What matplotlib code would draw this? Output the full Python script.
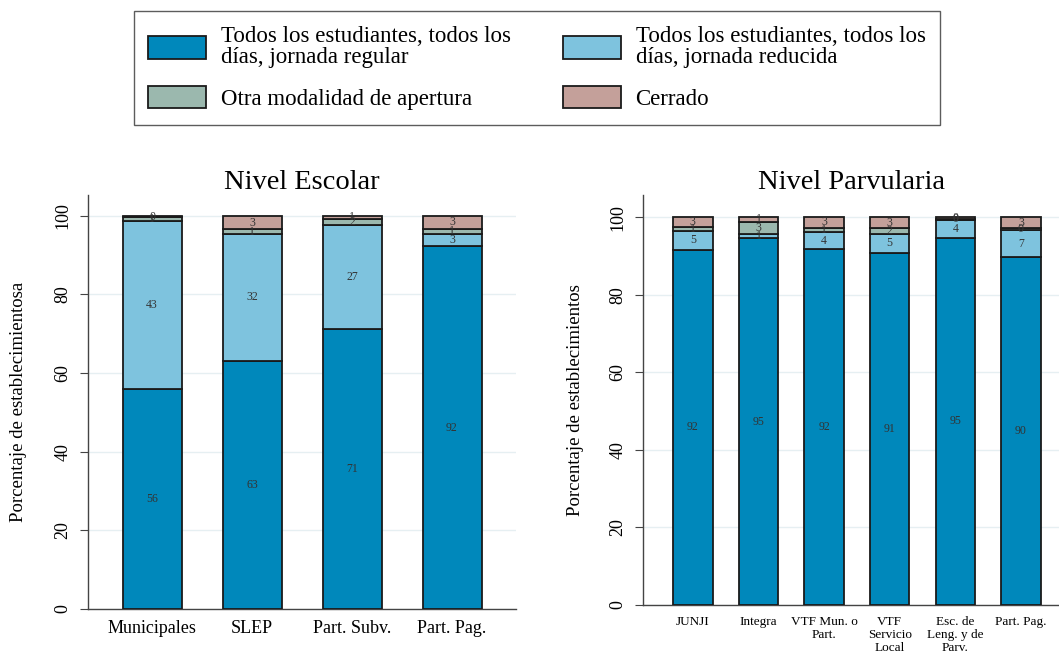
import numpy as np
import matplotlib.pyplot as plt
from matplotlib.patches import Patch

plt.rcParams['font.family'] = ['Liberation Serif', 'DejaVu Serif']

# ---- data ----
series = ["Todos los estudiantes, todos los\ndías, jornada regular",
          "Todos los estudiantes, todos los\ndías, jornada reducida",
          "Otra modalidad de apertura",
          "Cerrado"]
colors = ["#0088bb", "#7ec3de", "#9bb8ae", "#c4a09a"]

esc_cats = ["Municipales", "SLEP", "Part. Subv.", "Part. Pag."]
esc_regular = [55.9, 63.2, 71.1, 92.3]
esc_reducida = [42.9, 32.1, 26.6, 3.2]
esc_otra = [0.8, 1.3, 1.6, 1.2]
esc_cerrado = [0.4, 3.4, 0.7, 3.3]

par_cats = ["JUNJI", "Integra", "VTF Mun. o\nPart.", "VTF\nServicio\nLocal",
            "Esc. de\nLeng. y de\nParv.", "Part. Pag."]
par_regular = [91.6, 94.6, 91.8, 90.8, 94.7, 89.6]
par_reducida = [4.8, 1.0, 4.3, 4.9, 4.5, 7.0]
par_otra = [1.0, 3.2, 1.2, 1.5, 0.4, 0.5]
par_cerrado = [2.6, 1.2, 2.7, 2.8, 0.4, 2.9]

W, H = 1059, 652
fig = plt.figure(figsize=(W / 100, H / 100), dpi=100)


def panel(rect, cats, stacks, title, ylabel, width, xlim, ytop, tickfs, lblfs,
          tick_ls, ylpad):
    ax = fig.add_axes(rect)
    x = np.arange(len(cats))
    bottom = np.zeros(len(cats))
    for vals, col in zip(stacks, colors):
        vals = np.array(vals)
        ax.bar(x, vals, width, bottom=bottom, color=col, edgecolor="#1a1a1a",
               linewidth=1.3, zorder=3)
        for xi, b, v in zip(x, bottom, vals):
            ax.text(xi, b + v / 2, f"{v:.0f}", ha="center", va="center",
                    fontsize=lblfs, color="#333333", zorder=4)
        bottom += vals
    ax.set_xlim(*xlim)
    ax.set_ylim(0, ytop)
    ax.set_yticks([0, 20, 40, 60, 80, 100])
    ax.set_yticklabels(["0", "20", "40", "60", "80", "100"], rotation=90,
                       va="center", fontsize=13)
    ax.set_xticks(x)
    ax.set_xticklabels(cats, fontsize=tickfs, linespacing=tick_ls)
    ax.tick_params(axis="x", length=0, pad=8)
    ax.tick_params(axis="y", length=6, width=0.8, color="#444444", pad=6)
    ax.grid(axis="y", color="#e6eff2", linewidth=1, zorder=0)
    for s in ["top", "right"]:
        ax.spines[s].set_visible(False)
    for s in ["left", "bottom"]:
        ax.spines[s].set_color("#444444")
        ax.spines[s].set_linewidth(1)
    ax.set_title(title, fontsize=20.5, pad=4)
    ax.set_ylabel(ylabel, fontsize=13.5, labelpad=ylpad)
    return ax


panel([88 / W, 1 - 609 / H, (516 - 88) / W, (609 - 195) / H], esc_cats,
      [esc_regular, esc_reducida, esc_otra, esc_cerrado], "Nivel Escolar",
      "Porcentaje de establecimientosa", 0.59, (-0.64, 3.64), 105.3, 13, 8.5,
      1.0, 20)

panel([643 / W, 1 - 605 / H, (1059 - 643) / W, (605 - 195) / H], par_cats,
      [par_regular, par_reducida, par_otra, par_cerrado], "Nivel Parvularia",
      "Porcentaje de establecimientos", 0.6, (-0.76, 5.58), 105.7, 9.5, 8.5,
      1.1, 18)

# legend fills column-wise, so order so rows read: regular, reducida / otra, cerrado
order = [0, 2, 1, 3]
handles = [Patch(facecolor=colors[i], edgecolor="#1a1a1a", linewidth=1.3) for i in order]
leg = fig.legend(handles, [series[i] for i in order], loc="center", ncol=2,
                 bbox_to_anchor=((124 + 950) / 2 / W, 1 - 68 / H),
                 fontsize=16.5, frameon=True, fancybox=False, edgecolor="#333333",
                 handlelength=2.5, handleheight=1.15, columnspacing=2.3,
                 handletextpad=0.65, labelspacing=0.75, borderpad=0.65,
                 borderaxespad=0)
leg.get_frame().set_linewidth(1.0)
for t in leg.get_texts():
    t.set_linespacing(1.0)

fig.savefig("out.png", dpi=100)
